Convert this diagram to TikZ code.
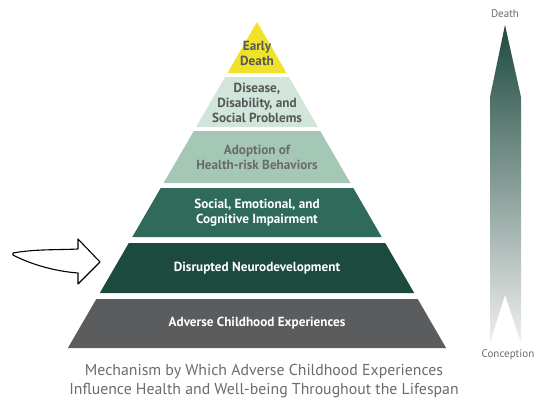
\documentclass[tikz,border=0pt]{standalone}
\usepackage{fontspec}
\setmainfont{PT Sans}
\usetikzlibrary{positioning}

\definecolor{deathyellow}{HTML}{F0E22A}
\definecolor{diseasegreen}{HTML}{D2E5DA}
\definecolor{adoptgreen}{HTML}{A4C7B6}
\definecolor{impairgreen}{HTML}{2F6A5A}
\definecolor{neurogreen}{HTML}{1D4A3F}
\definecolor{aceGray}{HTML}{5B5C5E}
\definecolor{labelgray}{HTML}{55585A}
\definecolor{captiongray}{HTML}{6A6B6D}

\begin{document}
\begin{tikzpicture}[x=1pt,y=-1pt]
        \tikzstyle{layertext} = [align=center, font=\bfseries\fontsize{13.2}{15}\selectfont, inner sep=0pt]
        \tikzstyle{lighttext} = [layertext, text=white]
        \tikzstyle{darktext} = [layertext, text=labelgray]
        \tikzstyle{endlabel} = [font=\fontsize{11}{12}\selectfont, text=captiongray, inner sep=0pt]

        \useasboundingbox (0,0) rectangle (537,404);

        % pyramid layers, apex at (257,22)
        \fill [deathyellow] (257,22) -- (286.6,73) -- (227.4,73) -- cycle;
        \fill [diseasegreen] (225.1,77) -- (288.9,77) -- (317.9,127) -- (196.1,127) -- cycle;
        \fill [adoptgreen] (193.8,131) -- (320.2,131) -- (350.4,183) -- (163.6,183) -- cycle;
        \fill [impairgreen] (160.7,188) -- (353.3,188) -- (381.7,237) -- (132.3,237) -- cycle;
        \fill [neurogreen] (128.8,243) -- (385.2,243) -- (414.2,293) -- (99.8,293) -- cycle;
        \fill [aceGray] (96.3,299) -- (417.7,299) -- (446.1,348) -- (67.9,348) -- cycle;

        \node [darktext] (death) at (257,53) {Early\\Death};
        \node [darktext] (disease) at (257,103) {Disease,\\Disability, and\\Social Problems};
        \node [darktext, text=captiongray] (adopt) at (257,157) {Adoption of\\Health-risk Behaviors};
        \node [lighttext] (impair) at (257,213) {Social, Emotional, and\\Cognitive Impairment};
        \node [lighttext] (neuro) at (257,268) {Disrupted Neurodevelopment};
        \node [lighttext] (ace) at (257,323) {Adverse Childhood Experiences};

        % hollow arrow pointing at the neurodevelopment layer
        \draw [line width=1.1pt, line join=round, fill=white]
            (13,253) .. controls (35,249) and (58,250) .. (78,249) -- (78,239) -- (100,262)
            -- (78,284) -- (78,273) .. controls (52,271) and (28,263) .. (13,255) -- cycle;

        % lifespan bar
        \node [endlabel] (top) at (505,14) {Death};
        \node [endlabel] (bottom) at (508,355) {Conception};
        \shade [top color=neurogreen, middle color=gray!85!black, bottom color=black!6]
            (505,25) -- (521,97) -- (521,343) -- (505,295) -- (490,343) -- (490,97) -- cycle;

        \node [align=center, text=captiongray, font=\fontsize{15.8}{19}\selectfont, inner sep=0pt] (caption) at (264,381)
            {Mechanism by Which Adverse Childhood Experiences\\Influence Health and Well-being Throughout the Lifespan};
    \end{tikzpicture}
\end{document}
